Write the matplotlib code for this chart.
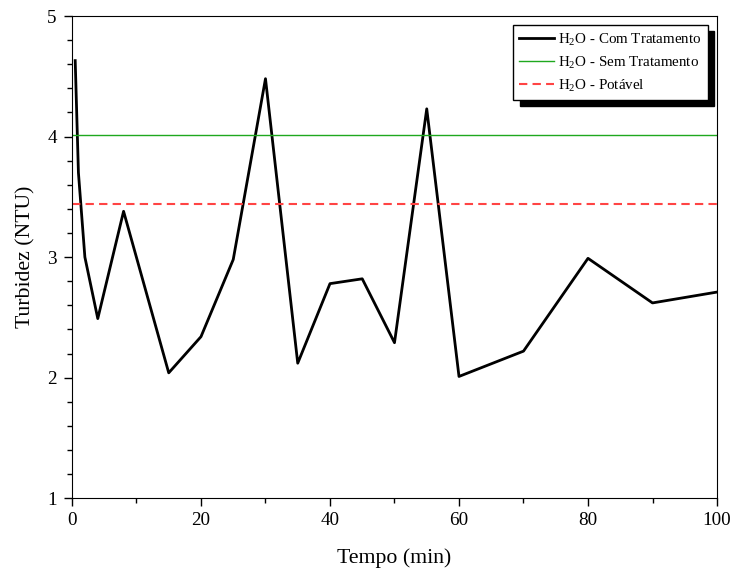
import numpy as np
import matplotlib
matplotlib.use("Agg")
import matplotlib.pyplot as plt
from matplotlib.ticker import MultipleLocator

plt.rcParams['font.family'] = ['Liberation Serif', 'DejaVu Serif']
plt.rcParams['mathtext.fontset'] = 'custom'
plt.rcParams['mathtext.rm'] = 'Liberation Serif'

# Turbidez ao longo do tempo
tempo = [0.5, 1, 2, 4, 8, 15, 20, 25, 30, 35, 40, 45, 50, 55, 60, 70, 80, 90, 100]
turbidez = [4.63, 3.70, 3.00, 2.49, 3.38, 2.04, 2.34, 2.98, 4.48, 2.12, 2.78,
            2.82, 2.29, 4.23, 2.01, 2.22, 2.99, 2.62, 2.71]
sem_tratamento = 4.01
potavel = 3.44

labels = [r'H$_\mathregular{2}$O - Com Tratamento',
          r'H$_\mathregular{2}$O - Sem Tratamento',
          r'H$_\mathregular{2}$O - Potável']

fig = plt.figure(figsize=(7.3, 5.72), dpi=100)
ax = fig.add_axes([0.0986, 0.129, 0.8836, 0.843])

ax.plot(tempo, turbidez, color='black', lw=2, label=labels[0])
ax.axhline(sem_tratamento, color='#1ea81e', lw=1, label=labels[1])
ax.axhline(potavel, color='#ff4444', lw=1.5, ls=(0, (4, 2.5)), label=labels[2])

ax.set_xlim(0, 100)
ax.set_ylim(1, 5)
ax.xaxis.set_major_locator(MultipleLocator(20))
ax.xaxis.set_minor_locator(MultipleLocator(10))
ax.yaxis.set_major_locator(MultipleLocator(1))
ax.yaxis.set_minor_locator(MultipleLocator(0.2))
ax.tick_params(which='both', direction='out', top=False, right=False, labelsize=13.8)
ax.tick_params(which='major', length=6, width=1, pad=4)
ax.tick_params(axis='y', which='major', pad=5)
ax.tick_params(which='minor', length=3.5, width=1)

ax.set_xlabel('Tempo (min)', fontsize=15.7, labelpad=14)
ax.set_ylabel('Turbidez (NTU)', fontsize=15.7, labelpad=8)

leg = ax.legend(loc='upper right', fontsize=10.8, fancybox=False, framealpha=1,
                edgecolor='black', borderaxespad=0.6, handlelength=2.3,
                handletextpad=0.3, labelspacing=0.42,
                shadow={'ox': 4.5, 'oy': -4.5, 'color': 'black', 'alpha': 1})
leg.get_frame().set_linewidth(1)

fig.savefig('out.png', dpi=100)
